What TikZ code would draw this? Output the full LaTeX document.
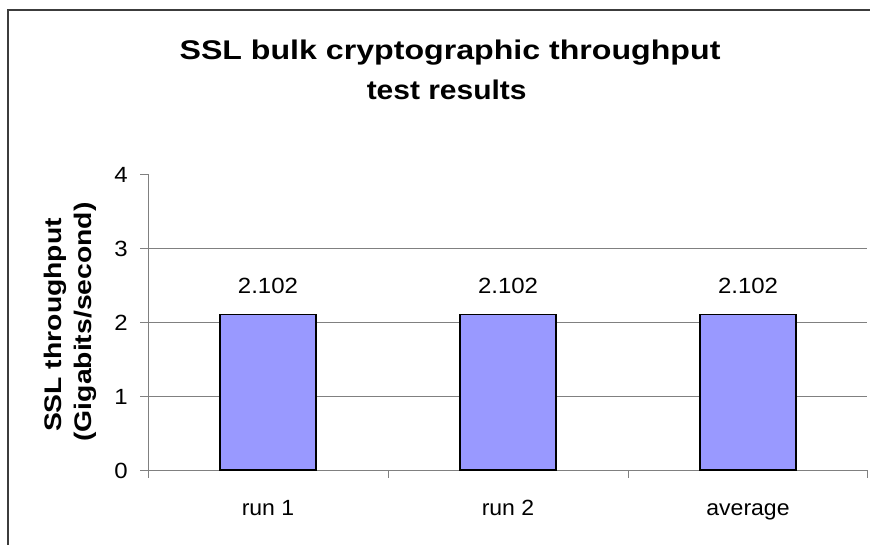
\documentclass[tikz,border=0pt]{standalone}
\usepackage{fontspec}
\setmainfont{Liberation Sans}
\usetikzlibrary{positioning}
\definecolor{barfill}{RGB}{153,153,255}
\definecolor{gridgray}{RGB}{128,128,128}
\definecolor{framegray}{RGB}{60,60,60}

\begin{document}
\begin{tikzpicture}[x=1pt, y=-1pt,
  gridline/.style={draw=gridgray, line width=1pt},
  barbox/.style={fill=barfill, draw=black, line width=1.6pt},
  numlbl/.style={font=\fontsize{22}{22}\selectfont, inner sep=0pt, xscale=1.09},
  ttl/.style={font=\bfseries\fontsize{27}{27}\selectfont, inner sep=0pt, anchor=base},
  ylab/.style={font=\bfseries\fontsize{24}{24}\selectfont, inner sep=0pt, anchor=base, rotate=90, xscale=1.18}]
  \useasboundingbox (0,0) rectangle (870,544);
  \fill[white] (0,0) rectangle (870,544);
  % outer frame, cut at the right and bottom
  \draw[framegray, line width=2pt] (8,10) rectangle (900,600);

  % title
  \node[ttl, xscale=1.19] (title1) at (450,59.3) {SSL bulk cryptographic throughput};
  \node[ttl, xscale=1.11] (title2) at (446.7,99.3) {test results};

  % axis title
  \node[ylab] (ylab1) at (61,325) {SSL throughput};
  \node[ylab] (ylab2) at (91,322) {(Gigabits/second)};

  % grid and y ticks
  \foreach \v in {1,2,3}
    \draw[gridline] (148,470-74*\v) -- (867,470-74*\v);
  \foreach \v in {0,...,4} {
    \draw[gridline] (140,470-74*\v) -- (148,470-74*\v);
    \node[numlbl, anchor=base east] (ytick\v) at (128,478-74*\v) {\v};
  }

  % axes
  \draw[gridline] (148,174) -- (148,478);
  \draw[gridline] (148,470) -- (867,470);
  \foreach \x in {388,628,867}
    \draw[gridline] (\x,470) -- (\x,478);

  % bars
  \foreach \cx/\cat/\id in {268/run 1/a, 508/run 2/b, 748/average/c} {
    \draw[barbox] (\cx-48,470) rectangle (\cx+48,470-74*2.102);
    \node[numlbl, anchor=base] (val\id) at (\cx,293.3) {2.102};
    \node[numlbl, anchor=base, xscale=0.96] (cat\id) at (\cx,515) {\cat};
  }
\end{tikzpicture}
\end{document}
